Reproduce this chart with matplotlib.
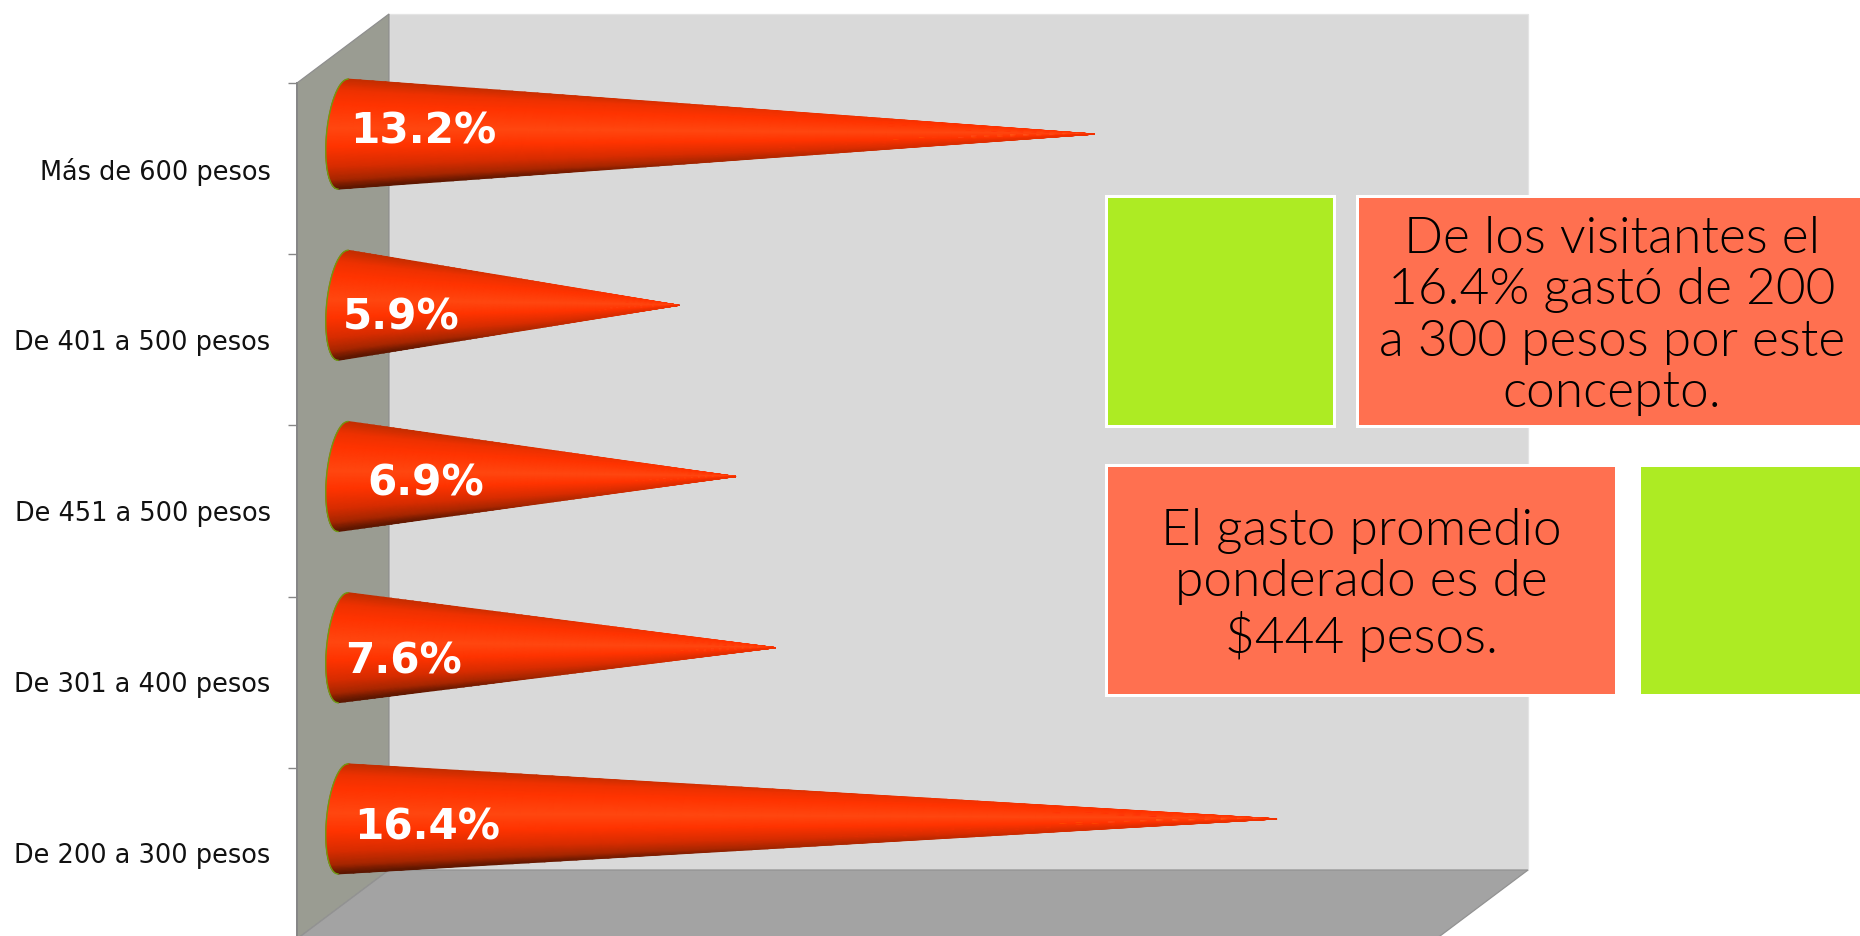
import numpy as np
import matplotlib
matplotlib.use("Agg")
import matplotlib.pyplot as plt
from matplotlib.colors import LinearSegmentedColormap
from matplotlib.patches import Polygon, Rectangle

# Spending ranges, bottom to top, and the share of visitors in each
categories = ["De 200 a 300 pesos", "De 301 a 400 pesos", "De 451 a 500 pesos",
              "De 401 a 500 pesos", "Más de 600 pesos"]
shares = [16.4, 7.6, 6.9, 5.9, 13.2]
note_top = "De los visitantes el\n16.4% gastó de 200\na 300 pesos por este\nconcepto."
note_bottom = "El gasto promedio\nponderado es de\n$444 pesos."

W, H = 1860, 936
fig = plt.figure(figsize=(W / 100, H / 100), dpi=100, facecolor="white")

# Front plane of the 3-D chart box, in pixels
left, right, top, bottom = 297, 1436, 83, 939
ax = fig.add_axes([left / W, 1 - bottom / H, (right - left) / W, (bottom - top) / H])
ax.set_xlim(0, 20)
ax.set_ylim(0, len(categories))
ax.patch.set_visible(False)
for name in ("top", "right", "bottom"):
    ax.spines[name].set_visible(False)
ax.spines["left"].set_color("#868686")
ax.spines["left"].set_linewidth(1.4)
ax.spines["left"].set_zorder(6)
ax.set_xticks([])

x_per_px = 20 / (right - left)
y_per_px = len(categories) / (bottom - top)
depth_x = 92 * x_per_px
depth_y = 69 * y_per_px
n = len(categories)

# Walls and floor
walls = [
    ([(depth_x, depth_y), (20 + depth_x, depth_y), (20 + depth_x, n + depth_y), (depth_x, n + depth_y)], "#D9D9D9", "#E4E4E4"),
    ([(0, 0), (depth_x, depth_y), (depth_x, n + depth_y), (0, n)], "#9A9C92", "#8E8E8E"),
    ([(0, 0), (20, 0), (20 + depth_x, depth_y), (depth_x, depth_y)], "#A3A3A3", "#929292"),
]
for pts, colour, edge in walls:
    ax.add_patch(Polygon(pts, closed=True, facecolor=colour, edgecolor=edge,
                         linewidth=0.9, clip_on=False, zorder=1))

# Category ticks sit between the cones, labels centred in each band
ax.set_yticks(np.arange(0, n + 1))
ax.set_yticklabels([])
ax.tick_params(axis="y", which="major", length=6.5, width=1.0, color="#868686", direction="out")
ax.set_yticks(np.arange(n) + 0.5, minor=True)
ax.set_yticklabels(categories, minor=True, fontsize=18.45, family="DejaVu Sans", color="#111111")
ax.tick_params(axis="y", which="minor", length=0, pad=19)

# Shaded cones running from the mid-depth plane out to each value
shade = LinearSegmentedColormap.from_list("cone", [
    (0.00, "#C42D00"), (0.10, "#EE3100"), (0.22, "#FF3300"), (0.45, "#FF4710"),
    (0.62, "#FF3300"), (0.80, "#D82C00"), (0.92, "#A82600"), (1.00, "#5A1600"),
])
mid_x = depth_x / 2
mid_y = depth_y / 2
half_h = 55 * y_per_px
rx = 16.5 * x_per_px
skew = 5 * x_per_px
v = np.linspace(1, -1, 81)
u = np.linspace(0, 1, 60)
t = np.linspace(0, np.pi, 80)
for i, value in enumerate(shares):
    cy = i + 0.5 + mid_y
    tip = value + mid_x
    base = mid_x - rx * np.sqrt(1 - v ** 2) + skew * v
    U, V = np.meshgrid(u, v)
    X = base[:, None] + U * (tip - base[:, None])
    Y = cy + half_h * (1 - U) * V
    # The dark rims thin out towards the point
    tone = 0.45 + ((1 - V) / 2 - 0.45) * (1 - 0.6 * U ** 2)
    ax.pcolormesh(X, Y, tone, cmap=shade, vmin=0, vmax=1, shading="gouraud",
                  clip_on=False, zorder=3)
    ax.plot(mid_x - rx * np.sin(t) + skew * np.cos(t), cy + half_h * np.cos(t),
            color="#6E9A12", linewidth=1.0, clip_on=False, zorder=4)

# Overlay in pixel units for the annotation boxes and value labels
ov = fig.add_axes([0, 0, 1, 1])
ov.set_xlim(0, W)
ov.set_ylim(H, 0)
ov.axis("off")
ov.patch.set_visible(False)

GREEN = "#ADEB23"
CORAL = "#FF7050"
border = 3
boxes = [(1108, 198, 1333, 425, GREEN), (1359, 198, 1864, 425, CORAL),
         (1108, 467, 1615, 694, CORAL), (1641, 467, 1864, 694, GREEN)]
for x0, y0, x1, y1, colour in boxes:
    ov.add_patch(Rectangle((x0 - border, y0 - border), x1 - x0 + 2 * border, y1 - y0 + 2 * border,
                           facecolor="white", edgecolor="none", zorder=5))
    ov.add_patch(Rectangle((x0, y0), x1 - x0, y1 - y0, facecolor=colour, edgecolor="none", zorder=6))

note_font = dict(family="Lato", fontweight=300, fontsize=37, color="black", ha="center", va="center",
                 linespacing=1.15, zorder=7)
ov.text(1612, 316, note_top, **note_font)
ov.text(1361, 585, note_bottom, **note_font)

label_centres = [(427, 828), (403, 661), (426, 483), (401, 317), (423, 131)]
for value, (lx, ly) in zip(shares, label_centres):
    ov.text(lx, ly, f"{value}%", fontsize=30.3, fontweight="bold", family="DejaVu Sans",
            color="white", ha="center", va="center", zorder=8)

fig.savefig("out.png", dpi=100, facecolor="white")
